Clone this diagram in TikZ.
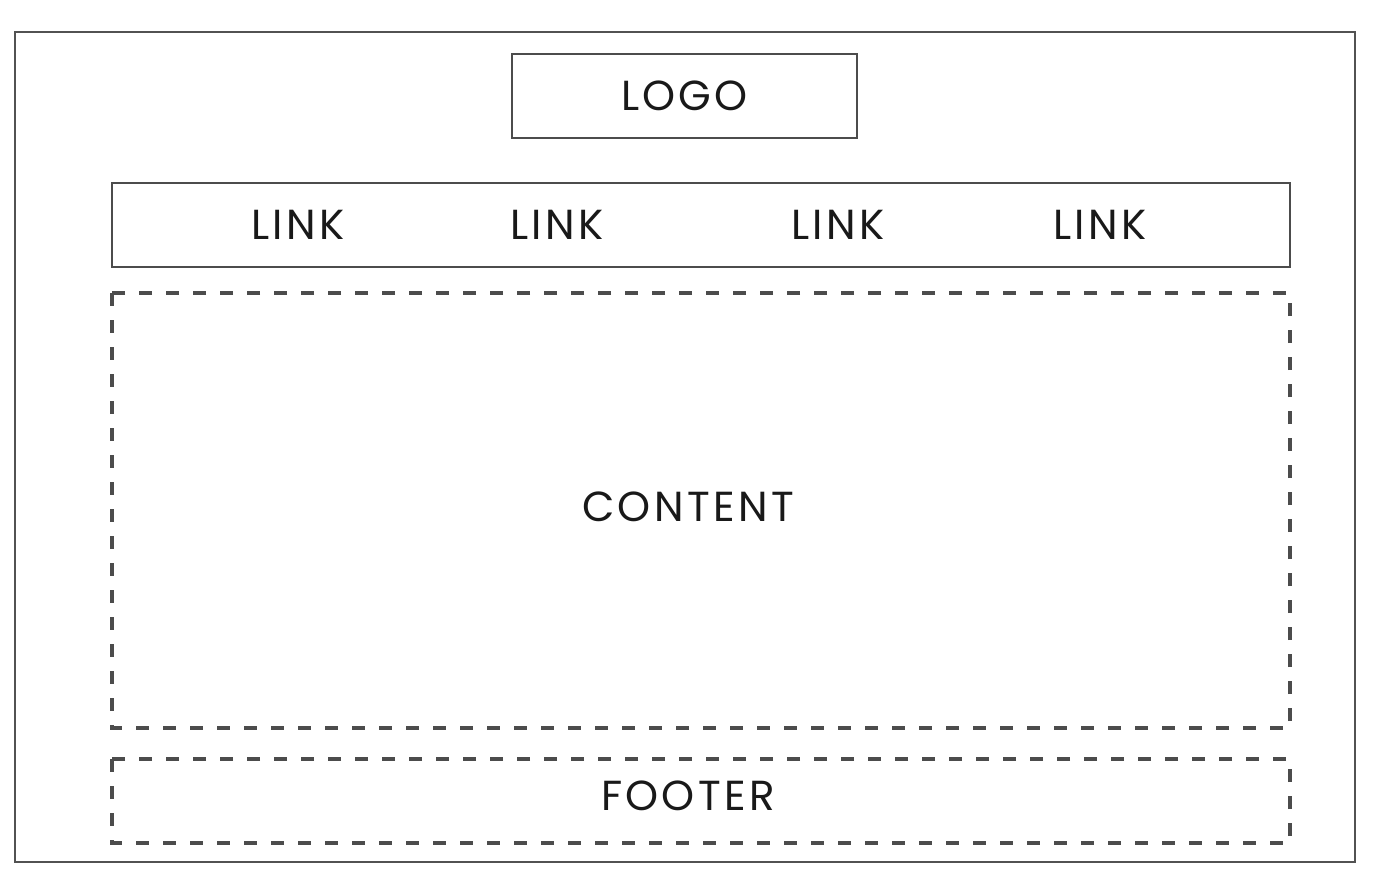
\documentclass[tikz,border=0pt]{standalone}
\usepackage{fontspec}
\setmainfont{Poppins}[LetterSpace=8]
\begin{document}
\begin{tikzpicture}[x=1pt,y=-1pt,
  box/.style={draw=black!70,line width=2.8pt},
  dbox/.style={draw=black!70,line width=3.2pt,dash pattern=on 13pt off 14pt},
  lbl/.style={font=\fontsize{42}{44}\selectfont,text=black!90,inner sep=0pt}]
\useasboundingbox (0,0) rectangle (1396,876);
\fill[white] (0,0) rectangle (1396,876);
\draw[draw=black!68,line width=2.6pt] (15,32) rectangle (1355,862);
\node[box,minimum width=345pt,minimum height=84pt,inner sep=0pt] (logo) at (684.5,96) {};
\node[lbl] (logot) at (logo.center) {LOGO};
\node[box,minimum width=1178pt,minimum height=84pt,inner sep=0pt] (nav) at (701,225) {};
\node[lbl] (l1) at (298,225) {LINK};
\node[lbl] (l2) at (557,225) {LINK};
\node[lbl] (l3) at (838,225) {LINK};
\node[lbl] (l4) at (1100,225) {LINK};
\draw[dbox] (112,293) rectangle (1290,728);
\node[lbl] (content) at (688,507) {CONTENT};
\draw[dbox] (112,759) rectangle (1290,843);
\node[lbl] (footer) at (688,796) {FOOTER};
\end{tikzpicture}
\end{document}
